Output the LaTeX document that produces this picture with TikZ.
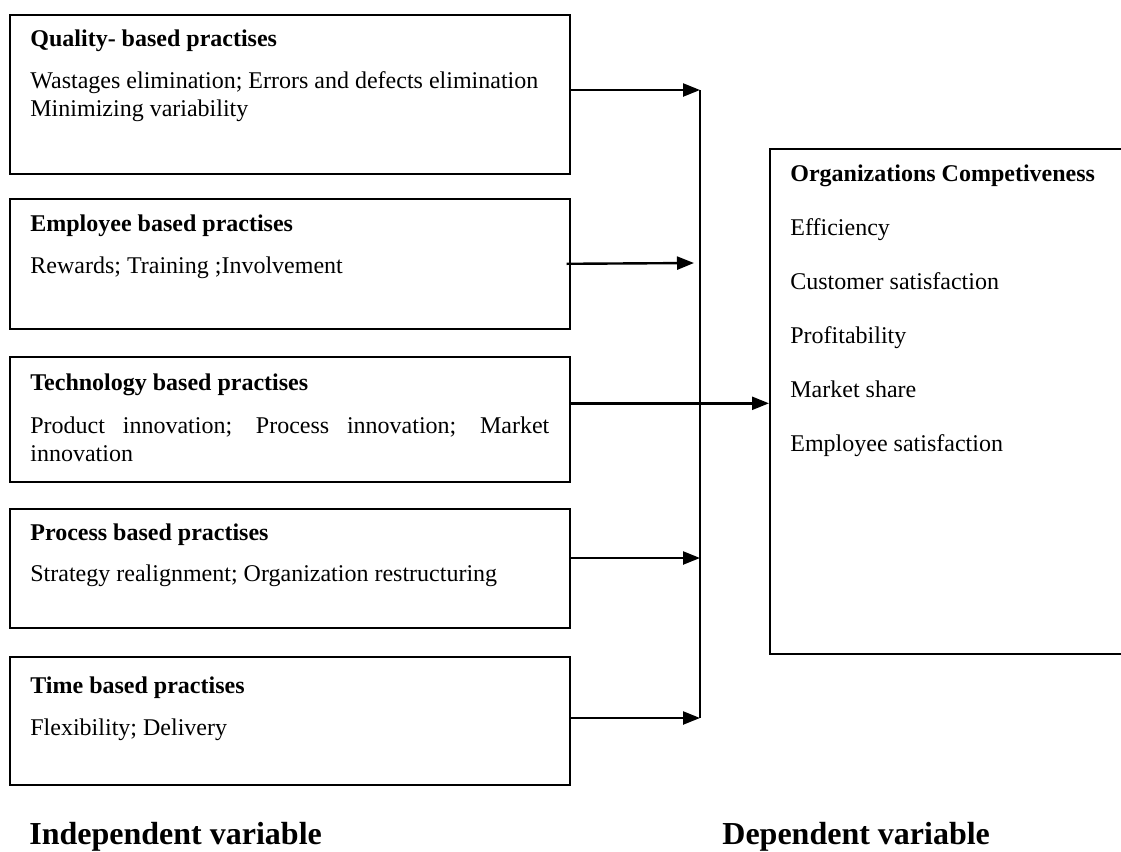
\documentclass[tikz,border=0pt]{standalone}
\usepackage{fontspec}
\setmainfont{Liberation Serif}
\usetikzlibrary{arrows.meta}

\tikzset{
  every node/.style={font=\fontsize{12}{13.8}\selectfont},
  lbox/.style={draw, line width=0.8pt, inner sep=0pt, anchor=north west, minimum width=280pt},
  rbox/.style={draw, line width=0.8pt, inner sep=0pt, anchor=north west, minimum width=178pt, minimum height=252.5pt},
  heading/.style={anchor=west, inner sep=0pt, font=\fontsize{12}{13.8}\selectfont\bfseries},
  body/.style={anchor=west, inner sep=0pt, align=flush left, text width=270pt},
  entry/.style={anchor=base west, inner sep=0pt},
  varlabel/.style={anchor=west, inner sep=0pt, font=\fontsize{16}{19}\selectfont\bfseries},
  arr/.style={line width=1.2pt, -{Triangle[length=8.5pt,width=6.5pt]}},
}

\begin{document}
\begin{tikzpicture}[x=0.5pt, y=-0.5pt]
        \path[use as bounding box, clip] (0,0) rectangle (1121,852);

        \node[lbox, minimum height=79.5pt] (quality) at (9,14) {};
        \node[lbox, minimum height=65pt] (employee) at (9,198) {};
        \node[lbox, minimum height=62.5pt] (tech) at (9,356) {};
        \node[lbox, minimum height=59.5pt] (process) at (9,508) {};
        \node[lbox, minimum height=64pt] (time) at (9,656) {};
        \node[rbox] (comp) at (769,148) {};

        \node[heading] (qualityT) at (30,41) {Quality- based practises};
        \node[body] (qualityB) at (30,96.5) {Wastages elimination; Errors and defects elimination\\Minimizing variability};
        \node[heading] (employeeT) at (30,226) {Employee based practises};
        \node[body] (employeeB) at (30,268) {Rewards; Training ;Involvement};
        \node[heading] (techT) at (30,385) {Technology based practises};
        \node[body] (techB) at (30,439)
            {\makebox[259.5pt][s]{Product innovation; Process innovation; Market}\\innovation};
        \node[heading] (processT) at (30,535) {Process based practises};
        \node[body] (processB) at (30,576) {Strategy realignment; Organization restructuring};
        \node[heading] (timeT) at (30,688) {Time based practises};
        \node[body] (timeB) at (30,730) {Flexibility; Delivery};

        \node[heading] (compT) at (790,176) {Organizations Competiveness};
        \foreach \txt [count=\i] in {Efficiency, Customer satisfaction, Profitability, Market share, Employee satisfaction}
            \node[entry] (m\i) at (790,181+54*\i) {\txt};

        \node[varlabel] (indep) at (29,837) {Independent variable};
        \node[varlabel] (dep) at (722,837) {Dependent variable};

        \coordinate (b1) at (700,90);
        \coordinate (b2) at (694,263);
        \coordinate (b4) at (700,558);
        \coordinate (b5) at (700,718);
        \draw[arr] (quality.east |- b1) -- (b1);
        \draw[arr] ([xshift=-2pt]employee.east) -- (b2);
        \draw[arr] ([yshift=-1pt]tech.east |- comp.west) -- ([yshift=-1pt]comp.west);
        \draw[arr] (process.east |- b4) -- (b4);
        \draw[arr] (time.east |- b5) -- (b5);
        \draw[line width=1pt] (b1) -- (b5);
        \end{tikzpicture}
\end{document}
